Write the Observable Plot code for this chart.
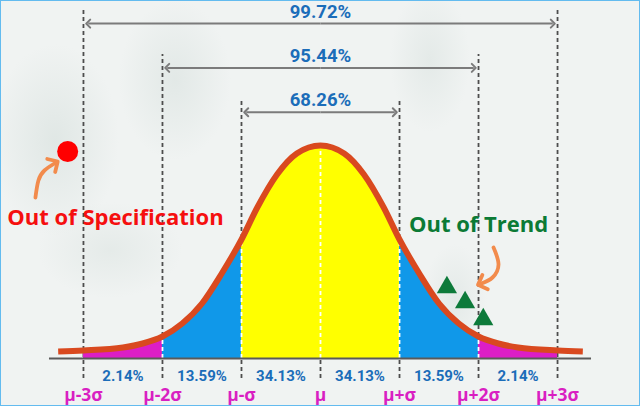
<!DOCTYPE html>
<html><head><meta charset="utf-8">
<script src="https://cdn.jsdelivr.net/npm/d3@7"></script>
<script src="https://cdn.jsdelivr.net/npm/@observablehq/plot@0.6"></script>
<style>
html,body{margin:0;padding:0;}
body{width:640px;height:408px;overflow:hidden;background:#fff;}
#wrap{position:relative;width:640px;height:408px;}
#bg{position:absolute;left:0;top:0;width:640px;height:406px;
 background:
  radial-gradient(ellipse 80px 120px at 55px 140px, rgba(205,217,213,0.45), rgba(205,217,213,0) 80%),
  radial-gradient(ellipse 70px 100px at 175px 80px, rgba(205,217,213,0.4), rgba(205,217,213,0) 80%),
  radial-gradient(ellipse 90px 60px at 110px 250px, rgba(208,219,215,0.35), rgba(208,219,215,0) 80%),
  radial-gradient(ellipse 50px 90px at 430px 60px, rgba(205,217,213,0.35), rgba(205,217,213,0) 80%),
  radial-gradient(ellipse 40px 70px at 455px 300px, rgba(205,217,213,0.35), rgba(205,217,213,0) 80%),
  #f0f3f2;}
#frame{position:absolute;left:0;top:0;width:640px;height:406px;box-sizing:border-box;border:1.5px solid #63bbef;pointer-events:none;}
#chart{position:absolute;left:0;top:0;}
</style></head>
<body>
<div id="wrap"><div id="bg"></div><div id="chart"></div><div id="frame"></div></div>
<script>
// ---- data ----
const curveZ = [-3.32,-3,-2.5,-2.25,-2,-1.75,-1.5,-1.25,-1,-0.8,-0.55,-0.3,0,0.3,0.55,0.8,1,1.25,1.5,1.75,2,2.25,2.5,3,3.32];
const curveH = [7,8,11,15,22,35,55,85,119,151,184,205,213,205,184,151,119,85,55,35,22,15,11,8,7];
const sigmaZ = [-3,-2,-1,0,1,2,3];
const sigmaLabels = ["μ-3σ","μ-2σ","μ-σ","μ","μ+σ","μ+2σ","μ+3σ"];
const bandPct = ["2.14%","13.59%","34.13%","34.13%","13.59%","2.14%"];
const coverageK = [1,2,3];
const coveragePct = ["68.26%","95.44%","99.72%"];
const oosZ = [-3.2], oosV = [207];
const ootZ = [1.60,1.83,2.06], ootV = [71,56,39];
const specArrowZ = [-3.608,-3.57,-3.494,-3.367], specArrowV = [161,178,188,195];
const trendArrowZ = [2.19,2.253,2.177,2.038], trendArrowV = [111,94,81,75];

// ---- layout helpers ----
const arrowV = k => 246.3 + (k-1)*44.3;
const textV = k => arrowV(k) + 11.8;
const lineTop = k => arrowV(k) + 13.5;
const inset = 0.06;

const curve = curveZ.map((z,i)=>({z, h: curveH[i]}));
const hAt = z => curve.find(d => Math.abs(d.z - z) < 1e-9).h;
const bands = [[-3,-2],[-2,-1],[-1,1],[1,2],[2,3]];
const bandColors = ["#dc1ec6","#1098e9","#ffff00","#1098e9","#dc1ec6"];

const sideLines = sigmaZ.filter(z => z !== 0).map(z => ({z, k: Math.abs(z)}));
const whiteLines = sigmaZ.filter(z => Math.abs(z) < 3).map(z => ({z, h: hAt(z)}));
const arrows = coverageK.flatMap(k => [-1,1].map(s => ({k, s})));
const coverage = coverageK.map((k,i) => ({k, pct: coveragePct[i]}));
const bandLabels = bandPct.map((p,i) => ({z: (sigmaZ[i]+sigmaZ[i+1])/2, p}));
const sigmas = sigmaZ.map((z,i) => ({z, label: sigmaLabels[i]}));
const oos = oosZ.map((z,i)=>({z, v: oosV[i]}));
const oot = ootZ.map((z,i)=>({z, v: ootV[i]}));
const specArrow = specArrowZ.map((z,i)=>({z, v: specArrowV[i]}));
const trendArrow = trendArrowZ.map((z,i)=>({z, v: trendArrowV[i]}));

const dash = "4,3";
const chart = Plot.plot({
  width: 640, height: 408, margin: 0,
  x: {domain: [-4.05, 4.05]},
  y: {domain: [-50, 358]},
  axis: null,
  style: {background: "transparent", overflow: "visible"},
  marks: [
    Plot.ruleX(sideLines, {x: "z", y1: -20, y2: d => lineTop(d.k), stroke: "#4d4d4d", strokeWidth: 1.8, strokeDasharray: dash}),
    Plot.ruleX([0], {x: d => d, y1: -20, y2: 0, stroke: "#4d4d4d", strokeWidth: 1.8, strokeDasharray: dash}),
    ...bands.map((b,i) => Plot.areaY(curve.filter(d => d.z >= b[0]-1e-9 && d.z <= b[1]+1e-9),
        {x: "z", y: "h", fill: bandColors[i], curve: "monotone-x"})),
    Plot.ruleX(whiteLines, {x: "z", y1: 0, y2: "h", stroke: "#ffffff", strokeWidth: 1.8, strokeDasharray: dash}),
    Plot.line(curve, {x: "z", y: "h", stroke: "#d9491f", strokeWidth: 6, curve: "monotone-x", strokeLinecap: "butt"}),
    Plot.ruleY([0], {y: d => d, x1: -3.43, x2: 3.43, stroke: "#5a5a5a", strokeWidth: 2.2}),
    Plot.link(arrows, {x1: () => 0, y1: d => arrowV(d.k), x2: d => d.s*(d.k - inset), y2: d => arrowV(d.k),
        stroke: "#7b7b7b", strokeWidth: 2, markerEnd: "arrow"}),
    Plot.text(coverage, {x: () => 0, y: d => textV(d.k), text: "pct", fill: "#1b6db9", fontSize: 18.5, fontWeight: 700, fontFamily: "Roboto"}),
    Plot.text(bandLabels, {x: "z", y: () => -17.5, text: "p", fill: "#1b6db9", fontSize: 15, fontWeight: 700, fontFamily: "Roboto"}),
    Plot.text(sigmas, {x: "z", y: () => -37, text: "label", fill: "#d91fc2", fontSize: 17.5, fontWeight: 700, fontFamily: "Open Sans"}),
    Plot.text(["Out of Specification"], {x: () => -2.595, y: () => 140.5, text: d => d, fill: "#f50f0f", fontSize: 22, fontWeight: 700, fontFamily: "Open Sans"}),
    Plot.text(["Out of Trend"], {x: () => 2.0, y: () => 133.3, text: d => d, fill: "#0b7a35", fontSize: 22, fontWeight: 700, fontFamily: "Open Sans"}),
    Plot.dot(oos, {x: "z", y: "v", r: 10.5, fill: "#ff0000"}),
    Plot.dot(oot, {x: "z", y: "v", r: 7.5, symbol: "triangle", fill: "#0d7a3a"}),
    Plot.line(specArrow, {x: "z", y: "v", stroke: "#f28b4c", strokeWidth: 3.8, curve: "natural", markerEnd: "arrow"}),
    Plot.line(trendArrow, {x: "z", y: "v", stroke: "#f28b4c", strokeWidth: 3.8, curve: "natural", markerEnd: "arrow"})
  ]
});
document.getElementById("chart").appendChild(chart);
</script>
</body></html>
